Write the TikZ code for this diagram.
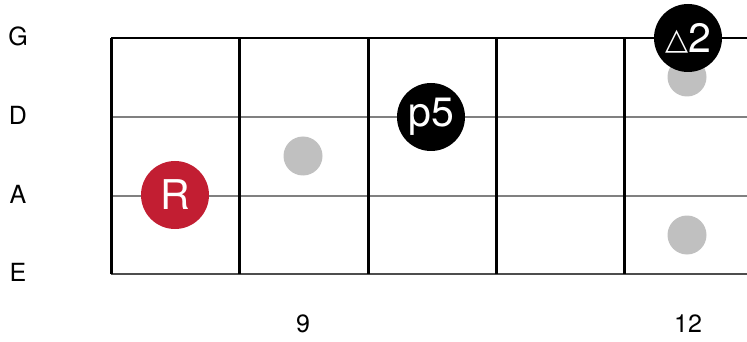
\documentclass[tikz,border=0pt]{standalone}
\usepackage{fontspec}
\setmainfont{TeX Gyre Heros}
\newfontfamily\symfont{DejaVu Sans}
\usepackage[svgnames]{xcolor}
\usetikzlibrary{positioning}
\definecolor{rootred}{HTML}{C21E32}
\definecolor{ghostgray}{HTML}{C0C0C0}
\definecolor{stringgray}{HTML}{808080}
\tikzset{
        fret/.style={line width=3pt, black},
        topstring/.style={line width=1.5pt, black},
        midstring/.style={line width=1.5pt, stringgray},
        lowstring/.style={line width=2pt, stringgray!60!black},
        strname/.style={font=\fontsize{25}{25}\selectfont, inner sep=0pt},
        fretnum/.style={font=\fontsize{25}{25}\selectfont, inner sep=0pt},
        note/.style={circle, minimum size=68pt, inner sep=0pt, text=white,
            font=\fontsize{41}{41}\selectfont},
        ghost/.style={circle, minimum size=39pt, inner sep=0pt, fill=ghostgray},
    }
\begin{document}
\begin{tikzpicture}[x = 1pt, y = -1pt]
                \useasboundingbox (0,0) rectangle (747,342);
                \foreach \s/\y in {G/38,D/117,A/196,E/274}
                {
                    \node[strname] (name\s) at (18,\y-2) {\s};
                    \coordinate (left\s) at (111,\y);
                    \coordinate (right\s) at (747,\y);
                }
                \draw[topstring] (leftG) -- (rightG);
                \draw[midstring] (leftD) -- (rightD);
                \draw[midstring] (leftA) -- (rightA);
                \draw[lowstring] (leftE) -- (rightE);
                \foreach \x in {111,239,368,496,624}
                    \draw[fret] (\x,38) -- (\x,274);
                \node[ghost] (g9) at (303,156) {};
                \node[ghost] (g12a) at (687,77) {};
                \node[ghost] (g12b) at (687,235) {};
                \node[note, fill=rootred] (root) at (175,195) {R};
                \node[note, fill=black] (fifth) at (431,117) {p5};
                \node[note, fill=black] (ninth) at (688,38)
                    {\raisebox{3pt}{\fontsize{30}{30}\symfont △}2};
                \node[fretnum] (num9) at (303,324) {9};
                \node[fretnum] (num12) at (688,324) {12};
            \end{tikzpicture}
\end{document}
